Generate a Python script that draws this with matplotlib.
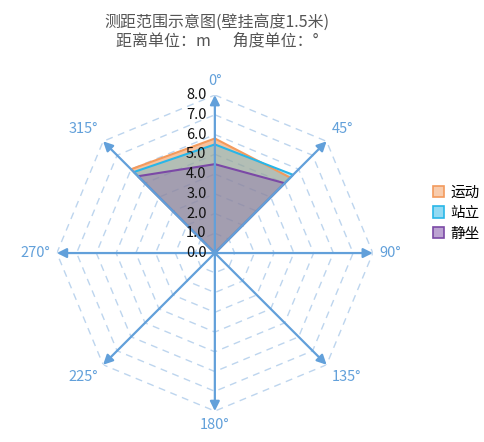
import numpy as np
import matplotlib.pyplot as plt
from matplotlib.colors import to_rgba
from matplotlib.patches import Patch

plt.rcParams['font.family'] = ['Noto Sans CJK SC', 'DejaVu Sans']

# data
ANGLE_LABELS = ["0°", "45°", "90°", "135°", "180°", "225°", "270°", "315°"]
SERIES_NAMES = ["运动", "站立", "静坐"]
RUN_VALUES = [5.8, 5.4, 0, 0, 0, 0, 0, 6.0]
STAND_VALUES = [5.5, 5.6, 0, 0, 0, 0, 0, 5.8]
SIT_VALUES = [4.5, 5.0, 0, 0, 0, 0, 0, 5.5]
RADIAL_TICKS = [0, 1, 2, 3, 4, 5, 6, 7, 8]

LINE_COLORS = ["#F39A5C", "#29B6E8", "#7B49A6"]
FILL_ALPHAS = [0.6, 0.33, 0.27]
AXIS_COLOR = "#62A0DA"
GRID_COLOR = "#BDD5EE"
TITLE_COLOR = "#555555"

fig = plt.figure(figsize=(4.85, 4.42), dpi=100)
ax = fig.add_axes([0.117, 0.070, 0.652, 0.715], projection="polar")
ax.set_theta_zero_location("N")
ax.set_theta_direction(-1)
ax.set_ylim(0, 8)
ax.grid(False)
ax.spines["polar"].set_visible(False)
ax.set_xticks([])
ax.set_yticks([])
ax.patch.set_alpha(0)

angles = np.deg2rad(np.arange(len(ANGLE_LABELS)) * 45)
closed = np.append(angles, angles[0])

# octagon grid rings
for r in RADIAL_TICKS[1:]:
    ax.plot(closed, [r] * len(closed), color=GRID_COLOR, lw=1,
            ls=(0, (5, 4)), zorder=1)

# series
series = [RUN_VALUES, STAND_VALUES, SIT_VALUES]
for vals, col, al in zip(series, LINE_COLORS, FILL_ALPHAS):
    v = np.append(vals, vals[0])
    ax.fill(closed, v, color=col, alpha=al, lw=0, zorder=2)
    ax.plot(closed, v, color=col, lw=1.5, zorder=3)

# axis arrows
for a in angles:
    ax.annotate("", xy=(a, 8), xytext=(0, 0),
                arrowprops=dict(arrowstyle="-|>", color=AXIS_COLOR, lw=1.6,
                                mutation_scale=14, shrinkA=0, shrinkB=0),
                zorder=4)

# angle labels
aligns = [("center", "bottom"), ("left", "bottom"), ("left", "center"),
          ("left", "top"), ("center", "top"), ("right", "top"),
          ("right", "center"), ("right", "bottom")]
for a, lab, (ha, va) in zip(angles, ANGLE_LABELS, aligns):
    ax.text(a, 8.35, lab, ha=ha, va=va, color=AXIS_COLOR, fontsize=10.5)

# radial tick labels
for r in RADIAL_TICKS:
    ax.annotate(f"{r:.1f}", xy=(0, r), xytext=(-6, 0),
                textcoords="offset points", ha="right", va="center",
                fontsize=10.5, color="#111111", zorder=5)

fig.text(0.448, 0.95, "测距范围示意图(壁挂高度1.5米)", ha="center", va="center",
         fontsize=11.5, color=TITLE_COLOR)
fig.text(0.448, 0.907, "距离单位：m      角度单位：°", ha="center", va="center",
         fontsize=11.5, color=TITLE_COLOR)

handles = [Patch(facecolor=to_rgba(col, 0.5), edgecolor=col, lw=1.2)
           for col in LINE_COLORS]
fig.legend(handles, SERIES_NAMES, loc="center left",
           bbox_to_anchor=(0.865, 0.518), frameon=False, fontsize=10.5,
           handlelength=0.8, handleheight=0.8, handletextpad=0.4,
           labelspacing=0.45)

fig.savefig("out.png", dpi=100)
